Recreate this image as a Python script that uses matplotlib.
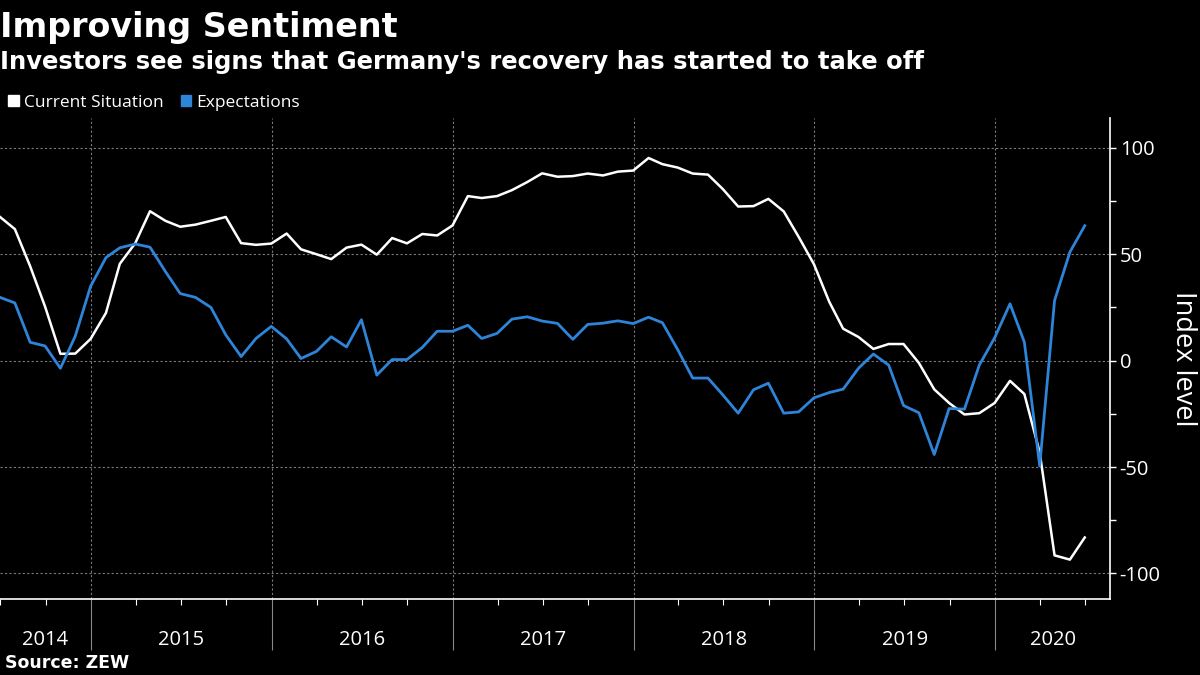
import pandas as pd
import numpy as np
import matplotlib
matplotlib.use('Agg')
import matplotlib.pyplot as plt
import matplotlib.dates as mdates

# ZEW survey, monthly readings Jun 2014 - Jun 2020
months = pd.date_range('2014-06-30', '2020-06-30', freq='ME')

current_situation = [
    67.7, 61.8, 44.3, 25.4, 3.2, 3.3, 10.2,
    22.4, 45.5, 55.1, 70.2, 65.7, 62.9, 63.9, 65.7, 67.5, 55.2, 54.4, 55.0,
    59.7, 52.3, 50.0, 47.7, 53.1, 54.5, 49.8, 57.6, 55.1, 59.5, 58.8, 63.5,
    77.3, 76.4, 77.3, 80.1, 83.9, 88.0, 86.4, 86.7, 87.9, 87.0, 88.8, 89.3,
    95.2, 92.3, 90.7, 87.9, 87.4, 80.6, 72.4, 72.6, 76.0, 70.1, 58.2, 45.3,
    27.6, 15.0, 11.1, 5.5, 7.8, 7.8, -1.1, -13.5, -19.9, -25.3, -24.7, -19.9,
    -9.5, -15.7, -43.1, -91.5, -93.5, -83.1,
]
expectations = [
    29.8, 27.1, 8.6, 6.9, -3.6, 11.5, 34.9,
    48.4, 53.0, 54.8, 53.3, 41.9, 31.5, 29.7, 25.0, 12.1, 1.9, 10.4, 16.1,
    10.2, 1.0, 4.3, 11.2, 6.4, 19.2, -6.8, 0.5, 0.5, 6.2, 13.8, 13.8,
    16.6, 10.4, 12.8, 19.5, 20.6, 18.6, 17.5, 10.0, 17.0, 17.6, 18.7, 17.4,
    20.4, 17.8, 5.1, -8.2, -8.2, -16.1, -24.7, -13.7, -10.6, -24.7, -24.1, -17.5,
    -15.0, -13.4, -3.6, 3.1, -2.1, -21.1, -24.5, -44.1, -22.5, -22.8, -2.1, 10.7,
    26.7, 8.7, -49.5, 28.2, 51.0, 63.4,
]
years = ['2014', '2015', '2016', '2017', '2018', '2019', '2020']

WHITE = '#ffffff'
BLUE = '#2d84d8'
GRID = '#7a7a7a'

plt.rcParams['font.family'] = ['Open Sans', 'DejaVu Sans']
plt.rcParams['axes.unicode_minus'] = False
BOLD = ['DejaVu Sans']

fig = plt.figure(figsize=(12, 6.75), dpi=100, facecolor='black')
ax = fig.add_axes([0.0, 0.1126, 0.925, 0.7126], facecolor='black')

ax.plot(months, current_situation, color=WHITE, lw=1.8, label='Current Situation')
ax.plot(months, expectations, color=BLUE, lw=2.0, label='Expectations')

x_left = pd.Timestamp('2014-07-01')
x_right = pd.Timestamp('2020-08-20')
ax.set_xlim(x_left, x_right)
ax.set_ylim(-112, 114)

# y axis on the right
ax.yaxis.tick_right()
ax.set_yticks([-100, -50, 0, 50, 100])
ax.set_yticks(np.arange(-100, 101, 25), minor=True)
ax.tick_params(axis='y', which='both', colors=WHITE, labelsize=14.5, length=4, width=1, pad=3)
ax.yaxis.set_label_position('right')
ax.set_ylabel('Index level', color=WHITE, fontsize=19.5, rotation=-90, labelpad=26)

# x axis: year separators and quarter ticks
year_starts = [pd.Timestamp(f'{y}-01-01') for y in range(2015, 2021)]
ax.set_xticks(year_starts)
ax.set_xticklabels([])
ax.xaxis.set_minor_locator(mdates.MonthLocator(bymonth=[1, 4, 7, 10]))
ax.tick_params(axis='x', which='major', color='#888888', length=37, width=0.8)
ax.tick_params(axis='x', which='minor', color=WHITE, length=4, width=0.8)

# gridlines
for y in [-100, -50, 0, 50, 100]:
    ax.axhline(y, color=GRID, lw=0.8, ls=(0, (2, 2)), zorder=0)
for d in year_starts:
    ax.axvline(d, color=GRID, lw=0.8, ls=(0, (2, 2)), zorder=0)

for side in ['top', 'left']:
    ax.spines[side].set_visible(False)
ax.spines['right'].set_color(WHITE)
ax.spines['bottom'].set_color(WHITE)
ax.spines['right'].set_linewidth(1.2)
ax.spines['bottom'].set_linewidth(1.2)

# year labels centred on the visible part of each year
bounds = [x_left] + year_starts + [x_right]
for i, yr in enumerate(years):
    mid = bounds[i] + (bounds[i + 1] - bounds[i]) / 2
    ax.text(mid, -0.086, yr, transform=ax.get_xaxis_transform(),
            ha='center', va='center', color=WHITE, fontsize=14.5)

# titles, legend, source
fig.text(0.0, 0.983, 'Improving Sentiment', color=WHITE, fontsize=24,
         fontweight='bold', family=BOLD, ha='left', va='top')
fig.text(0.0, 0.926, "Investors see signs that Germany's recovery has started to take off",
         color=WHITE, fontsize=17.5, fontweight='bold', family=BOLD, ha='left', va='top')
fig.legend(loc='upper left', bbox_to_anchor=(0.004, 0.865), ncol=2, frameon=False,
           fontsize=12.5, labelcolor=WHITE, handlelength=0.6, handleheight=0.6,
           handletextpad=0.3, columnspacing=1.0, borderaxespad=0, borderpad=0.2,
           handles=[plt.Rectangle((0, 0), 1, 1, color=WHITE),
                    plt.Rectangle((0, 0), 1, 1, color=BLUE)],
           labels=['Current Situation', 'Expectations'])
fig.text(0.004, 0.005, 'Source: ZEW', color=WHITE, fontsize=12.5,
         fontweight='bold', family=BOLD, ha='left', va='bottom')

fig.savefig('out.png', dpi=100, facecolor='black')
